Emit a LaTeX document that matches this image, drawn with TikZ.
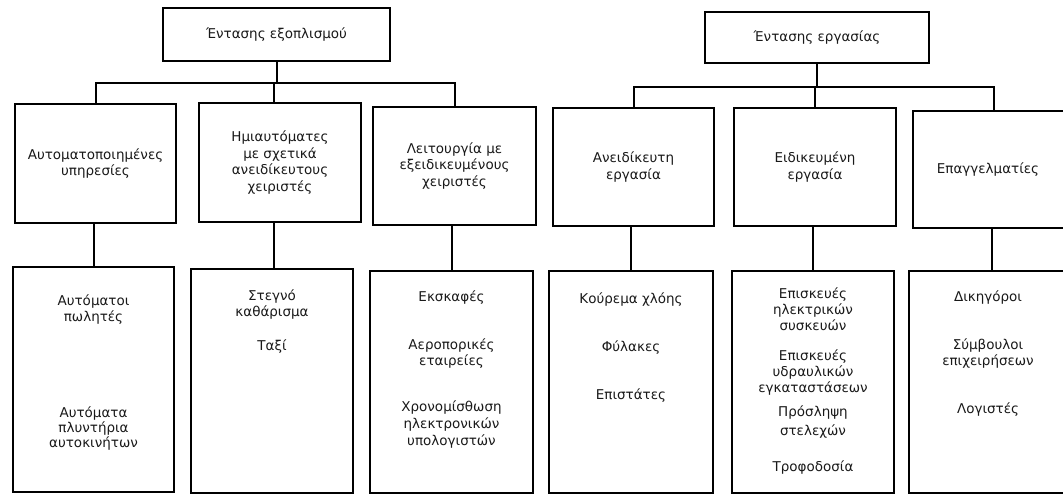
\documentclass[tikz,border=0pt]{standalone}
\usepackage{fontspec}
\setmainfont{DejaVu Sans}
\begin{document}
\begin{tikzpicture}[x=1pt,y=-1pt,
  box/.style={draw, line width=2.4pt, inner sep=0pt, align=center,
    text=black!90, font=\fontsize{13.5}{16.5}\selectfont},
  lbl/.style={align=center, inner sep=0pt, text=black!90,
    font=\fontsize{13.5}{16}\selectfont},
  wire/.style={line width=2pt}]
\useasboundingbox (0,0) rectangle (1063,495);
\clip (0,0) rectangle (1063,495);

% top level
\node[box, minimum width=227pt, minimum height=53pt] (T1) at (276.5,34.5) {Έντασης εξοπλισμού};
\node[box, minimum width=224pt, minimum height=51pt] (T2) at (817,37.5) {Έντασης εργασίας};

% middle level
\node[box, minimum width=161pt, minimum height=119pt] (M1) at (95.5,163.5) {Αυτοματοποιημένες\\υπηρεσίες};
\node[box, minimum width=162pt, minimum height=119pt] (M2) at (280,162.5) {Ημιαυτόματες\\με σχετικά\\ανειδίκευτους\\χειριστές};
\node[box, minimum width=163pt, minimum height=118pt] (M3) at (454.5,166) {Λειτουργία με\\εξειδικευμένους\\χειριστές};
\node[box, minimum width=161pt, minimum height=118pt] (M4) at (633.5,167) {Ανειδίκευτη\\εργασία};
\node[box, minimum width=162pt, minimum height=118pt] (M5) at (815,167) {Ειδικευμένη\\εργασία};
\node[box, minimum width=162pt, minimum height=117pt] (M6) at (994,169.5) {Επαγγελματίες\hspace*{12pt}};

% bottom level frames
\node[box, minimum width=161pt, minimum height=225pt] (B1) at (93.5,379.5) {};
\node[box, minimum width=162pt, minimum height=224pt] (B2) at (272,381) {};
\node[box, minimum width=163pt, minimum height=222pt] (B3) at (451.5,382) {};
\node[box, minimum width=164pt, minimum height=222pt] (B4) at (631,382) {};
\node[box, minimum width=162pt, minimum height=222pt] (B5) at (813,382) {};
\node[box, minimum width=166pt, minimum height=222pt] (B6) at (992,382) {};

% bottom level entries
\node[lbl] (b1a) at (93.5,310) {Αυτόματοι\\πωλητές};
\node[lbl, font=\fontsize{13.5}{15}\selectfont] (b1b) at (93.5,429) {Αυτόματα\\πλυντήρια\\αυτοκινήτων};

\node[lbl] (b2a) at (272,305) {Στεγνό\\καθάρισμα};
\node[lbl] (b2b) at (272,347) {Ταξί};

\node[lbl] (b3a) at (451.5,298) {Εκσκαφές};
\node[lbl] (b3b) at (451.5,353.5) {Αεροπορικές\\εταιρείες};
\node[lbl, font=\fontsize{13.5}{17}\selectfont] (b3c) at (451.5,425) {Χρονομίσθωση\\ηλεκτρονικών\\υπολογιστών};

\node[lbl] (b4a) at (631,300) {Κούρεμα χλόης};
\node[lbl] (b4b) at (631,348) {Φύλακες};
\node[lbl] (b4c) at (631,396) {Επιστάτες};

\node[lbl] (b5a) at (813,309) {Επισκευές\\ηλεκτρικών\\συσκευών};
\node[lbl] (b5b) at (813,373) {Επισκευές\\υδραυλικών\\εγκαταστάσεων};
\node[lbl, font=\fontsize{13.5}{19}\selectfont] (b5c) at (813,422) {Πρόσληψη\\στελεχών};
\node[lbl] (b5d) at (813,468) {Τροφοδοσία};

\node[lbl] (b6a) at (988,298) {Δικηγόροι};
\node[lbl] (b6b) at (988,353.5) {Σύμβουλοι\\επιχειρήσεων};
\node[lbl] (b6c) at (988,410) {Λογιστές};

% bus lines
\coordinate (busL) at (0,83);
\coordinate (busR) at (0,87);

\draw[wire] (T1.south) -- (T1.south |- busL);
\draw[wire] (M1.north) -- (M1.north |- busL) -- (M3.north |- busL) -- (M3.north);
\draw[wire] ([xshift=-6pt]M2.north) -- ([xshift=-6pt]M2.north |- busL);

\draw[wire] (T2.south) -- (T2.south |- busR);
\draw[wire] (M4.north) -- (M4.north |- busR) -- (M6.north |- busR) -- (M6.north);
\draw[wire] (M5.north) -- (M5.north |- busR);

% middle to bottom
\draw[wire] (B1.north) -- (B1.north |- M1.south);
\draw[wire] ([xshift=2pt]B2.north) -- ([xshift=2pt]B2.north |- M2.south);
\draw[wire] (B3.north) -- (B3.north |- M3.south);
\draw[wire] (B4.north) -- (B4.north |- M4.south);
\draw[wire] (B5.north) -- (B5.north |- M5.south);
\draw[wire] (B6.north) -- (B6.north |- M6.south);
\end{tikzpicture}
\end{document}
